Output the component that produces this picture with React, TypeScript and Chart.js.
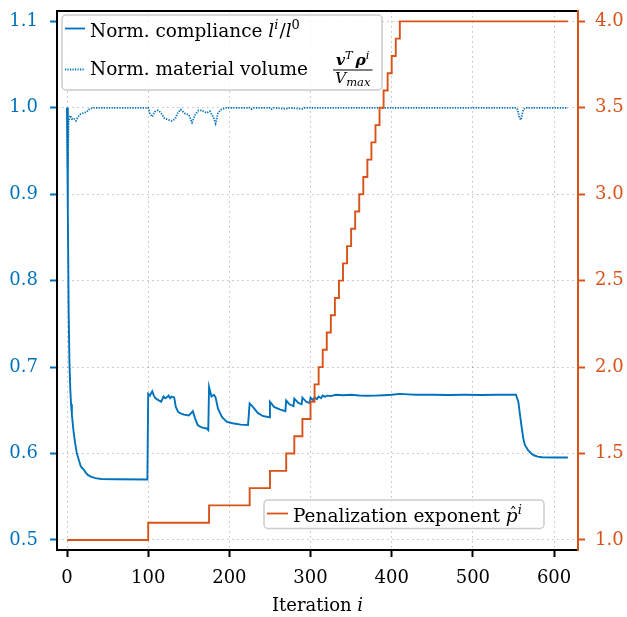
import React, { useEffect, useRef } from 'react';
import { Chart, registerables } from 'chart.js';

Chart.register(...registerables);

const BLUE = '#0072BD';
const ORANGE = '#D95319';
const FAMILY = "'DejaVu Serif', serif";
const GRID = 'rgba(0,0,0,0.22)';

// Tick values
const xTicks = [0, 100, 200, 300, 400, 500, 600];
const leftTicks = [0.5, 0.6, 0.7, 0.8, 0.9, 1.0, 1.1];
const rightTicks = [1.0, 1.5, 2.0, 2.5, 3.0, 3.5, 4.0];

// Normalized compliance l^i / l^0
const complianceIter = [
  0, 1, 2, 3, 4, 5, 6, 8, 10, 12, 15, 17, 19, 21, 23, 26, 30, 35, 42, 60, 99,
  100, 102, 105, 107, 109, 113, 116, 119, 121, 123, 125, 127, 129, 132, 134, 137, 140, 144, 150,
  152, 155, 158, 161, 164, 167, 172, 174,
  175, 178, 181, 183, 186, 191, 197, 204, 214, 223,
  225, 229, 235, 241, 249,
  250, 255, 262, 269,
  270, 274, 279,
  280, 285, 289,
  290, 295, 299,
  300, 303, 305, 308, 310, 313, 315, 318, 320, 325, 331, 340, 350, 360, 370, 380, 390, 400,
  410, 420, 430, 450, 470, 490, 510, 530, 553,
  556, 558, 560, 562, 564, 568, 572, 575, 580, 585, 600, 617,
];
const complianceVal = [
  1.0, 0.88, 0.765, 0.705, 0.675, 0.657, 0.645, 0.626, 0.612, 0.601, 0.591, 0.585, 0.583, 0.581, 0.578, 0.575, 0.573, 0.5715, 0.5706, 0.5702, 0.57,
  0.669, 0.667, 0.672, 0.667, 0.664, 0.6615, 0.66, 0.666, 0.664, 0.665, 0.667, 0.664, 0.666, 0.665, 0.654, 0.648, 0.6465, 0.645, 0.644,
  0.646, 0.649, 0.64, 0.633, 0.631, 0.63, 0.629, 0.627,
  0.677, 0.666, 0.668, 0.665, 0.652, 0.642, 0.6365, 0.635, 0.6335, 0.633,
  0.658, 0.654, 0.647, 0.6435, 0.642,
  0.66, 0.654, 0.651, 0.649,
  0.6615, 0.657, 0.655,
  0.6635, 0.6585, 0.657,
  0.6646, 0.6596, 0.6585,
  0.6646, 0.662, 0.665, 0.663, 0.666, 0.664, 0.667, 0.6655, 0.667, 0.6665, 0.668, 0.6675, 0.668, 0.6672, 0.6668, 0.667, 0.6675, 0.668,
  0.669, 0.6685, 0.668, 0.668, 0.6678, 0.668, 0.6678, 0.668, 0.668,
  0.66, 0.645, 0.631, 0.618, 0.61, 0.604, 0.6, 0.598, 0.5965, 0.5957, 0.5954, 0.5954,
];

// Normalized material volume v^T rho^i / V_max
const volumeIter = [
  0, 1, 2, 4, 6, 8, 11, 14, 17, 20, 24, 28, 33, 100,
  102, 105, 108, 112, 115, 120, 125, 129, 133, 137, 140, 145, 150, 154, 158, 162, 166, 172, 176, 180, 183, 186, 190, 196,
  225, 227, 230, 250, 252, 255, 270, 273, 290, 293, 330,
  553, 555, 557, 559, 562, 565, 617,
];
const volumeVal = [
  1.0, 0.93, 0.985, 0.991, 0.987, 0.988, 0.985, 0.99, 0.993, 0.994, 0.995, 0.999, 1.0, 1.0,
  0.9936, 0.9897, 0.9954, 0.997, 0.995, 0.988, 0.986, 0.985, 0.987, 0.995, 0.998, 0.9936, 0.992, 0.983, 0.992, 0.997, 0.997, 0.994, 0.996, 0.9897, 0.982, 0.994, 0.998, 1.0,
  1.0, 0.9985, 1.0, 1.0, 0.9985, 1.0, 0.9988, 1.0, 0.9988, 1.0, 1.0,
  1.0, 0.998, 0.9897, 0.986, 0.998, 1.0, 1.0,
];

// Penalization exponent p^i (step changes)
const penaltyIter = [
  0, 100, 175, 225, 250, 270, 280, 290, 300, 305, 310, 315, 320, 325, 330, 335, 340, 345,
  350, 355, 360, 365, 370, 375, 380, 385, 390, 395, 400, 405, 410, 617,
];
const penaltyVal = [
  1.0, 1.1, 1.2, 1.3, 1.4, 1.5, 1.6, 1.7, 1.8, 1.9, 2.0, 2.1, 2.2, 2.3, 2.4, 2.5, 2.6, 2.7,
  2.8, 2.9, 3.0, 3.1, 3.2, 3.3, 3.4, 3.5, 3.6, 3.7, 3.8, 3.9, 4.0, 4.0,
];

const fnt = (size: number, style = '') => `${style} ${size}px ${FAMILY}`.trim();

type Run = { t: string; font: string; dy?: number; dx?: number };

function runsWidth(ctx: CanvasRenderingContext2D, runs: Run[]) {
  let w = 0;
  for (const r of runs) {
    ctx.font = r.font;
    w += ctx.measureText(r.t).width + (r.dx || 0);
  }
  return w;
}

function drawRuns(ctx: CanvasRenderingContext2D, x: number, y: number, runs: Run[]) {
  ctx.textAlign = 'left';
  ctx.textBaseline = 'alphabetic';
  for (const r of runs) {
    ctx.font = r.font;
    x += r.dx || 0;
    ctx.fillText(r.t, x, y + (r.dy || 0));
    x += ctx.measureText(r.t).width;
  }
  return x;
}

function legendBox(ctx: CanvasRenderingContext2D, x: number, y: number, w: number, h: number) {
  ctx.save();
  ctx.beginPath();
  (ctx as any).roundRect(x, y, w, h, 4);
  ctx.fillStyle = 'rgba(255,255,255,0.8)';
  ctx.fill();
  ctx.lineWidth = 1.5;
  ctx.strokeStyle = '#cccccc';
  ctx.stroke();
  ctx.restore();
}

function sample(ctx: CanvasRenderingContext2D, x1: number, x2: number, y: number, color: string, dash: number[]) {
  ctx.save();
  ctx.strokeStyle = color;
  ctx.lineWidth = 1.8;
  ctx.setLineDash(dash);
  ctx.beginPath();
  ctx.moveTo(x1, y);
  ctx.lineTo(x2, y);
  ctx.stroke();
  ctx.restore();
}

const overlay = {
  id: 'overlay',
  afterDatasetsDraw(chart: any) {
    const { ctx, chartArea: a } = chart;
    ctx.save();
    ctx.lineWidth = 2;
    ctx.strokeStyle = '#000';
    ctx.beginPath();
    ctx.moveTo(a.right, a.top);
    ctx.lineTo(a.left, a.top);
    ctx.lineTo(a.left, a.bottom);
    ctx.lineTo(a.right, a.bottom);
    ctx.stroke();
    ctx.strokeStyle = ORANGE;
    ctx.beginPath();
    ctx.moveTo(a.right, a.top - 1);
    ctx.lineTo(a.right, a.bottom + 1);
    ctx.stroke();
    ctx.restore();
  },
  afterDraw(chart: any) {
    const { ctx, chartArea: a } = chart;
    ctx.save();
    ctx.fillStyle = '#000';

    // x-axis title
    const title: Run[] = [
      { t: 'Iteration ', font: fnt(18) },
      { t: 'i', font: fnt(18, 'italic') },
    ];
    const tw = runsWidth(ctx, title);
    drawRuns(ctx, (a.left + a.right) / 2 - tw / 2, 611, title);

    // Legend 1 (top-left)
    legendBox(ctx, 62, 15, 320, 75);
    sample(ctx, 65, 85, 28.5, BLUE, []);
    ctx.fillStyle = '#000';
    drawRuns(ctx, 90, 36.5, [
      { t: 'Norm. compliance ', font: fnt(18.5) },
      { t: 'l', font: fnt(18.5, 'italic') },
      { t: 'i', font: fnt(13, 'italic'), dy: -8 },
      { t: '/', font: fnt(18.5), dx: 1 },
      { t: 'l', font: fnt(18.5, 'italic') },
      { t: '0', font: fnt(13), dy: -8 },
    ]);
    sample(ctx, 65, 85, 69.5, BLUE, [1.2, 1.3]);
    const endX = drawRuns(ctx, 90, 75, [{ t: 'Norm. material volume ', font: fnt(18.5) }]);
    const num: Run[] = [
      { t: 'v', font: fnt(15.5, 'italic bold') },
      { t: 'T', font: fnt(11.5, 'italic'), dy: -6 },
      { t: 'ρ', font: fnt(15.5, 'italic bold'), dx: 3 },
      { t: 'i', font: fnt(11.5, 'italic'), dy: -6 },
    ];
    const den: Run[] = [
      { t: 'V', font: fnt(15.5, 'italic') },
      { t: 'max', font: fnt(11.5, 'italic'), dy: 3 },
    ];
    const nw = runsWidth(ctx, num);
    const dw = runsWidth(ctx, den);
    const fw = Math.max(nw, dw) + 4;
    const fx = Math.max(endX + 2, 333);
    drawRuns(ctx, fx + (fw - nw) / 2, 65, num);
    drawRuns(ctx, fx + (fw - dw) / 2, 83, den);
    ctx.fillRect(fx, 69.5, fw, 1);

    // Legend 2 (bottom-right)
    legendBox(ctx, 264, 500, 280, 28.5);
    sample(ctx, 267, 288, 513.5, ORANGE, []);
    ctx.fillStyle = '#000';
    const pX = drawRuns(ctx, 293, 521.5, [{ t: 'Penalization exponent ', font: fnt(18.5) }]);
    ctx.font = fnt(18.5, 'italic');
    const pw = ctx.measureText('p').width;
    drawRuns(ctx, pX, 521.5, [
      { t: 'p', font: fnt(18.5, 'italic') },
      { t: 'i', font: fnt(13, 'italic'), dy: -8 },
    ]);
    ctx.font = fnt(15);
    ctx.textAlign = 'center';
    ctx.fillText('ˆ', pX + pw / 2 + 1.5, 518);
    ctx.restore();
  },
};

export default function App() {
  const ref = useRef<HTMLCanvasElement>(null);
  useEffect(() => {
    const canvas = ref.current!;
    const tickFont = { family: FAMILY, size: 18 };
    const chart = new Chart(canvas, {
      type: 'line',
      data: {
        datasets: [
          {
            label: 'Penalization exponent',
            data: penaltyIter.map((x, i) => ({ x, y: penaltyVal[i] })),
            borderColor: ORANGE,
            borderWidth: 1.9,
            pointRadius: 0,
            stepped: 'before',
            yAxisID: 'y1',
            order: 1,
          },
          {
            label: 'Norm. compliance',
            data: complianceIter.map((x, i) => ({ x, y: complianceVal[i] })),
            borderColor: BLUE,
            borderWidth: 1.9,
            pointRadius: 0,
            tension: 0,
            yAxisID: 'y',
            order: 2,
          },
          {
            label: 'Norm. material volume',
            data: volumeIter.map((x, i) => ({ x, y: volumeVal[i] })),
            borderColor: BLUE,
            borderWidth: 1.8,
            borderDash: [1.3, 1.3],
            pointRadius: 0,
            tension: 0,
            yAxisID: 'y',
            order: 3,
          },
        ],
      },
      options: {
        animation: false,
        responsive: false,
        devicePixelRatio: 1,
        layout: { padding: { top: 11, left: 0, right: 0, bottom: 0 } },
        plugins: { legend: { display: false }, tooltip: { enabled: false } },
        scales: {
          x: {
            type: 'linear',
            min: -12.34,
            max: 629.5,
            afterBuildTicks: (s: any) => {
              s.ticks = xTicks.map((v) => ({ value: v }));
            },
            afterFit: (s: any) => {
              s.height = 67;
              s.paddingLeft = 0;
              s.paddingRight = 0;
            },
            grid: { color: GRID, lineWidth: 1, drawTicks: true, tickLength: 7, tickColor: '#000', tickWidth: 2, tickBorderDash: [] },
            border: { display: false, dash: [1.8, 3.2] },
            ticks: { color: '#000', font: tickFont, padding: 11, maxRotation: 0, autoSkip: false, callback: (v: any) => String(v) },
          },
          y: {
            type: 'linear',
            position: 'left',
            min: 0.4884,
            max: 1.112,
            afterBuildTicks: (s: any) => {
              s.ticks = leftTicks.map((v) => ({ value: v }));
            },
            afterFit: (s: any) => {
              s.width = 57;
              s.paddingTop = 0;
              s.paddingBottom = 0;
            },
            grid: { color: GRID, lineWidth: 1, drawTicks: true, tickLength: 7, tickColor: BLUE, tickWidth: 2, tickBorderDash: [] },
            border: { display: false, dash: [1.8, 3.2] },
            ticks: { color: BLUE, font: tickFont, padding: 12, autoSkip: false, callback: (v: any) => Number(v).toFixed(1) },
          },
          y1: {
            type: 'linear',
            position: 'right',
            min: 0.942,
            max: 4.06,
            afterBuildTicks: (s: any) => {
              s.ticks = rightTicks.map((v) => ({ value: v }));
            },
            afterFit: (s: any) => {
              s.width = 49;
              s.paddingTop = 0;
              s.paddingBottom = 0;
            },
            grid: { drawOnChartArea: false, drawTicks: true, tickLength: 7, tickColor: ORANGE, tickWidth: 2, tickBorderDash: [] },
            border: { display: false },
            ticks: { color: ORANGE, font: tickFont, padding: 10, autoSkip: false, callback: (v: any) => Number(v).toFixed(1) },
          },
        },
      },
      plugins: [overlay],
    } as any);
    return () => chart.destroy();
  }, []);
  return (
    <div style={{ position: 'fixed', left: 0, top: 0, width: 627, height: 617, background: '#fff' }}>
      <canvas ref={ref} width={627} height={617} style={{ width: 627, height: 617, display: 'block' }} />
    </div>
  );
}
